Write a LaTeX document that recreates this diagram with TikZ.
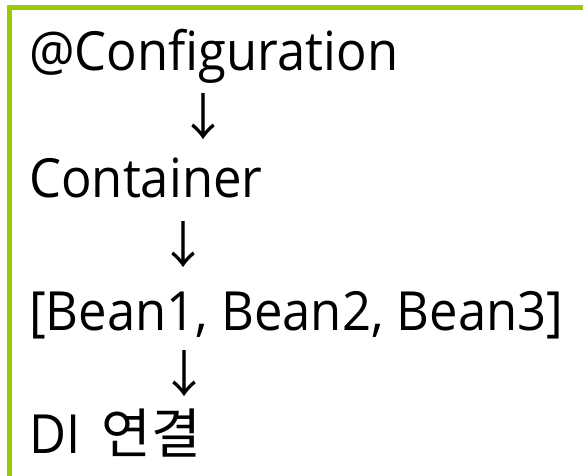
\documentclass[tikz,border=0pt]{standalone}
\usepackage{fontspec}
\setmainfont[FakeStretch=0.94]{Open Sans}
\newfontfamily\kr{Noto Sans CJK KR}
\definecolor{framegreen}{HTML}{99CC00}
\begin{document}
\begin{tikzpicture}[x=1pt,y=-1pt,
  txt/.style={anchor=base west, inner sep=0pt, font=\fontsize{54}{54}\selectfont},
  arr/.style={anchor=center, inner sep=0pt, font=\kr\fontsize{50}{50}\selectfont}]
\useasboundingbox (0,0) rectangle (583,475);
\begin{scope}
\clip (0,0) rectangle (583,475);
\draw[framegreen, line width=5pt] (9.5,7.5) rectangle (620,520);
\end{scope}
\node[txt] (l1) at (29,70) {@Configuration};
\node[arr] (a1) at (203,116.5) {↓};
\node[txt] (l2) at (29,197) {Container};
\node[arr] (a2) at (183,245) {↓};
\node[txt] (l3) at (29,330) {[Bean1, Bean2, Bean3]};
\node[arr] (a3) at (184,373.5) {↓};
\node[txt] (l4) at (29,453) {DI\hspace{8pt} {\kr 연결}};
\end{tikzpicture}
\end{document}
